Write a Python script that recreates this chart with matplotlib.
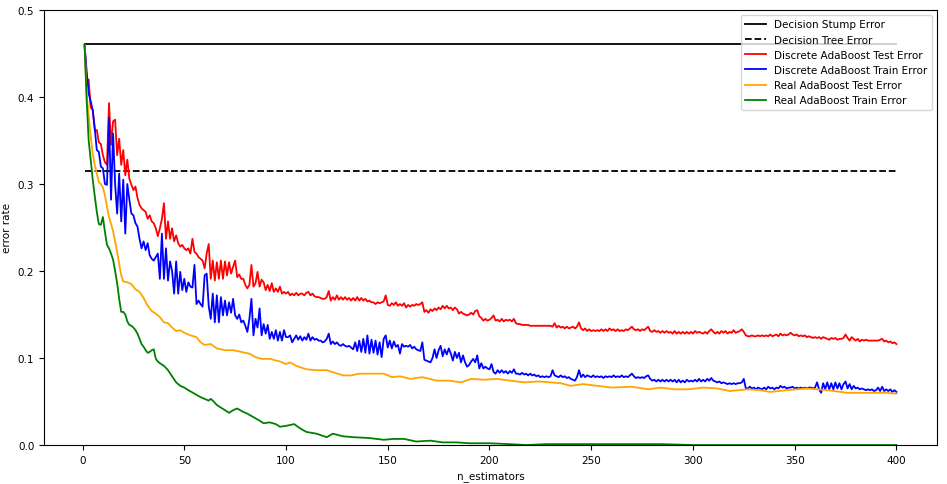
import numpy as np
import matplotlib
matplotlib.use("Agg")
import matplotlib.pyplot as plt

n_estimators = 400
stump_err = 0.461
tree_err = 0.3145

# discrete AdaBoost, one value per estimator (x = 1..400), in thousandths
disc_test = [
    460, 420, 420, 388, 385, 362, 362, 348, 346, 333, 325, 322, 393, 345, 372, 374, 333, 352, 322, 339,
    310, 328, 306, 299, 293, 297, 284, 276, 272, 270, 268, 260, 264, 257, 255, 249, 240, 249, 260, 278,
    237, 257, 237, 249, 234, 241, 232, 228, 230, 226, 224, 226, 220, 237, 222, 220, 216, 214, 212, 203,
    220, 231, 191, 212, 189, 210, 191, 212, 191, 211, 195, 210, 197, 205, 212, 193, 196, 191, 191, 184,
    180, 184, 207, 182, 186, 199, 182, 190, 187, 178, 184, 177, 186, 176, 180, 176, 182, 174, 176, 174,
    176, 172, 174, 172, 175, 172, 174, 174, 172, 175, 176, 172, 174, 171, 170, 170, 169, 168, 168, 170,
    177, 166, 170, 167, 172, 167, 170, 167, 170, 167, 169, 166, 169, 166, 170, 166, 169, 166, 168, 165,
    166, 164, 164, 162, 164, 163, 164, 165, 172, 161, 160, 163, 161, 164, 160, 162, 160, 163, 158, 161,
    159, 161, 160, 162, 161, 162, 164, 153, 155, 152, 156, 154, 157, 155, 158, 156, 160, 157, 160, 157,
    158, 155, 158, 156, 151, 153, 151, 150, 149, 150, 152, 150, 154, 155, 148, 146, 143, 145, 143, 144,
    146, 149, 143, 144, 142, 145, 142, 144, 143, 144, 142, 145, 140, 139, 139, 138, 138, 138, 138, 137,
    137, 137, 137, 137, 137, 137, 137, 137, 137, 137, 136, 140, 135, 137, 135, 136, 134, 136, 134, 135,
    136, 134, 136, 141, 134, 132, 134, 131, 133, 131, 132, 131, 132, 131, 133, 131, 133, 131, 134, 132,
    133, 131, 133, 131, 132, 131, 133, 132, 134, 136, 133, 132, 133, 131, 133, 132, 134, 136, 131, 130,
    132, 130, 131, 129, 131, 129, 131, 129, 130, 128, 131, 128, 130, 128, 130, 128, 130, 128, 130, 128,
    131, 129, 130, 129, 128, 130, 128, 131, 133, 130, 128, 130, 128, 131, 129, 131, 128, 130, 129, 132,
    129, 130, 131, 133, 130, 126, 125, 125, 126, 125, 125, 126, 125, 126, 125, 126, 125, 127, 125, 126,
    127, 125, 128, 126, 127, 126, 127, 129, 127, 126, 127, 125, 126, 125, 126, 124, 125, 124, 123, 124,
    123, 124, 122, 124, 123, 122, 121, 123, 122, 123, 121, 122, 122, 123, 127, 123, 120, 124, 122, 120,
    122, 119, 121, 120, 121, 120, 120, 120, 120, 120, 120, 121, 122, 119, 120, 118, 119, 117, 118, 116,
]
disc_train = [
    460, 430, 404, 395, 385, 364, 339, 337, 320, 318, 300, 299, 376, 282, 358, 300, 266, 312, 257, 305,
    243, 300, 282, 266, 264, 255, 251, 237, 226, 234, 224, 232, 218, 214, 212, 216, 220, 191, 243, 191,
    226, 189, 211, 200, 174, 211, 174, 199, 178, 191, 176, 187, 182, 181, 207, 162, 166, 162, 159, 195,
    197, 160, 145, 174, 141, 172, 141, 170, 149, 166, 149, 164, 152, 168, 149, 145, 150, 141, 143, 137,
    130, 145, 168, 126, 145, 135, 157, 126, 139, 128, 138, 122, 130, 122, 132, 120, 130, 120, 132, 124,
    124, 126, 118, 122, 126, 121, 125, 120, 124, 121, 128, 120, 124, 121, 122, 120, 120, 118, 119, 122,
    128, 116, 119, 116, 118, 115, 114, 116, 114, 113, 114, 112, 110, 118, 108, 120, 107, 122, 106, 126,
    105, 121, 106, 120, 104, 118, 101, 122, 126, 112, 120, 111, 119, 113, 115, 105, 116, 113, 114, 113,
    115, 111, 113, 110, 109, 108, 118, 98, 97, 96, 95, 100, 110, 100, 109, 114, 102, 110, 104, 111,
    105, 97, 107, 100, 106, 95, 103, 95, 90, 92, 96, 99, 95, 103, 88, 94, 88, 90, 88, 87,
    93, 84, 82, 86, 83, 86, 83, 85, 82, 85, 83, 87, 82, 82, 81, 83, 81, 82, 80, 82,
    80, 81, 79, 80, 78, 79, 78, 79, 78, 79, 86, 80, 79, 78, 80, 78, 79, 77, 78, 76,
    75, 74, 78, 86, 78, 81, 78, 80, 79, 78, 80, 78, 79, 78, 79, 77, 79, 78, 79, 78,
    80, 78, 79, 78, 80, 78, 79, 78, 80, 82, 79, 77, 78, 77, 78, 77, 79, 80, 76, 74,
    75, 73, 75, 73, 75, 73, 75, 73, 75, 73, 75, 72, 75, 72, 74, 72, 75, 73, 74, 73,
    75, 73, 76, 73, 75, 73, 76, 74, 77, 74, 73, 72, 73, 71, 72, 71, 70, 71, 70, 71,
    70, 71, 71, 72, 76, 65, 65, 67, 65, 66, 64, 66, 65, 64, 66, 64, 67, 65, 66, 64,
    66, 65, 68, 66, 67, 65, 66, 66, 67, 65, 66, 65, 66, 65, 66, 65, 66, 66, 65, 66,
    72, 64, 60, 71, 64, 72, 64, 71, 64, 72, 65, 71, 64, 70, 73, 65, 70, 64, 68, 65,
    66, 64, 65, 64, 63, 64, 63, 64, 62, 63, 66, 62, 67, 62, 64, 62, 64, 61, 63, 61,
]

# real AdaBoost, read at selected estimator counts
real_test_x = [1, 2, 3, 4, 5, 6, 7, 8, 9, 10, 11, 12, 13, 14, 15, 16, 17, 18, 19, 20,
               22, 24, 26, 28, 30, 32, 34, 36, 38, 40, 42, 44, 46, 48, 50, 53, 56, 58, 60, 63,
               66, 70, 74, 78, 82, 85, 88, 92, 97, 100, 102, 105, 110, 115, 120, 124, 128, 132, 136, 141,
               148, 152, 156, 161, 167, 174, 180, 186, 191, 197, 204, 210, 217, 224, 230, 235, 240, 246, 253, 260,
               270, 278, 284, 291, 298, 305, 312, 318, 327, 333, 338, 346, 356, 366, 376, 388, 395, 400]
real_test = [460, 404, 378, 355, 335, 322, 312, 302, 300, 296, 287, 274, 262, 254, 246, 234, 222, 208, 195, 188,
             187, 185, 179, 176, 169, 160, 154, 151, 147, 141, 140, 135, 131, 132, 129, 126, 124, 118, 115, 116,
             111, 109, 109, 107, 105, 101, 99, 99, 96, 93, 95, 91, 87, 86, 86, 83, 80, 80, 82, 82,
             82, 78, 79, 76, 78, 74, 74, 72, 76, 75, 76, 74, 72, 73, 72, 71, 68, 70, 68, 66,
             67, 64, 66, 64, 64, 66, 65, 62, 64, 63, 61, 63, 65, 63, 60, 60, 60, 59]

real_train_x = [1, 2, 3, 4, 5, 6, 7, 8, 9, 10, 11, 12, 13, 14, 15, 16, 17, 18, 19, 20,
                21, 22, 23, 24, 25, 26, 27, 28, 29, 30, 31, 32, 33, 34, 35, 36, 37, 38, 40, 42,
                44, 46, 48, 50, 52, 55, 58, 60, 62, 63, 64, 66, 68, 70, 72, 74, 76, 79, 81, 84,
                87, 89, 92, 95, 97, 100, 104, 107, 110, 115, 120, 123, 128, 133, 141, 148, 153, 158, 164, 171,
                177, 184, 190, 200, 210, 218, 228, 240, 255, 270, 285, 300, 400]
real_train = [460, 397, 350, 328, 305, 286, 268, 254, 253, 262, 245, 230, 226, 220, 213, 200, 186, 168, 153, 153,
              150, 142, 138, 137, 135, 132, 128, 122, 116, 113, 109, 106, 107, 109, 110, 99, 96, 94, 91, 86,
              79, 72, 68, 66, 63, 59, 55, 53, 51, 53, 51, 46, 43, 40, 37, 40, 42, 38, 36, 32,
              28, 25, 26, 24, 21, 22, 24, 19, 15, 13, 9, 13, 10, 9, 8, 6, 7, 7, 4, 5,
              3, 3, 2, 2, 1, 0, 1, 1, 1, 1, 1, 0, 0]

est = np.arange(1, n_estimators + 1)

fig = plt.figure(figsize=(9.47, 4.85), dpi=100)
ax = fig.add_axes([44 / 947, 39 / 485, 893 / 947, 435 / 485])

ax.plot([1, n_estimators], [stump_err] * 2, 'k-', lw=1.3, label='Decision Stump Error')
ax.plot([1, n_estimators], [tree_err] * 2, 'k--', lw=1.3, label='Decision Tree Error')
ax.plot(est, np.array(disc_test) / 1000, color='red', lw=1.3, label='Discrete AdaBoost Test Error')
ax.plot(est, np.array(disc_train) / 1000, color='blue', lw=1.3, label='Discrete AdaBoost Train Error')
ax.plot(real_test_x, np.array(real_test) / 1000, color='orange', lw=1.3, label='Real AdaBoost Test Error')
ax.plot(real_train_x, np.array(real_train) / 1000, color='green', lw=1.3, label='Real AdaBoost Train Error')

ax.set_ylim(0.0, 0.5)
ax.set_xlabel('n_estimators', fontsize=7.5)
ax.set_ylabel('error rate', fontsize=7.5)
ax.tick_params(labelsize=7.5)
leg = ax.legend(loc='upper right', fontsize=7.5)

fig.savefig('out.png', dpi=100)
